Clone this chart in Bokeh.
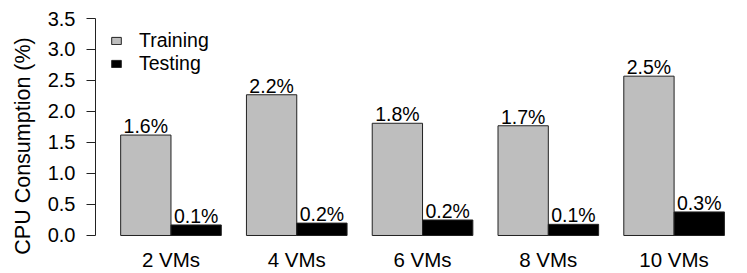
from bokeh.plotting import figure
from bokeh.models import FixedTicker, Legend, LegendItem, ColumnDataSource, NumeralTickFormatter
from bokeh.core.properties import value
from bokeh.embed import file_html
from bokeh.resources import INLINE

categories = ["2 VMs", "4 VMs", "6 VMs", "8 VMs", "10 VMs"]
training = [1.62, 2.27, 1.81, 1.77, 2.57]
testing = [0.17, 0.20, 0.25, 0.18, 0.38]
training_labels = ["1.6%", "2.2%", "1.8%", "1.7%", "2.5%"]
testing_labels = ["0.1%", "0.2%", "0.2%", "0.1%", "0.3%"]
y_ticks = [0.0, 0.5, 1.0, 1.5, 2.0, 2.5, 3.0, 3.5]

FONT = "Liberation Sans"
n = len(categories)
step = 2.5
train_x = [1.0 + step * i for i in range(n)]
test_x = [2.0 + step * i for i in range(n)]
centers = [1.5 + step * i for i in range(n)]

src_train = ColumnDataSource(dict(x=train_x, top=training, lab=training_labels))
src_test = ColumnDataSource(dict(x=test_x, top=testing, lab=testing_labels))
src_cat = ColumnDataSource(dict(x=centers, y=[0.0] * n, lab=categories))

p = figure(width=739, height=273, output_backend="svg", toolbar_location=None,
           x_range=(0, 12.8), y_range=(-0.613, 3.5),
           min_border_left=95, min_border_top=18, min_border_right=0, min_border_bottom=0)
p.outline_line_color = None
p.grid.visible = False
p.background_fill_color = "white"
p.xaxis.visible = False

r_train = p.vbar(x="x", top="top", bottom=0, width=1.0, source=src_train,
                 fill_color="#bebebe", line_color="#222222", line_width=1)
r_test = p.vbar(x="x", top="top", bottom=0, width=1.0, source=src_test,
                fill_color="black", line_color="#222222", line_width=1)

for src in (src_train, src_test):
    p.text(x="x", y="top", text="lab", source=src, text_align="center",
           text_baseline="bottom", y_offset=2,
           text_font=value(FONT), text_font_size="19.5px", text_color="black")

# category labels under the groups
p.text(x="x", y="y", text="lab", source=src_cat, text_align="center",
       text_baseline="top", y_offset=13,
       text_font=value(FONT), text_font_size="20.5px", text_color="black")

# y axis
ya = p.yaxis[0]
ya.ticker = FixedTicker(ticks=y_ticks)
ya.formatter = NumeralTickFormatter(format="0.0")
ya.bounds = (0, 3.5)
ya.axis_line_color = "#222222"
ya.major_tick_line_color = "#222222"
ya.major_tick_in = 0
ya.major_tick_out = 9
ya.minor_tick_line_color = None
ya.major_label_standoff = 11
ya.major_label_text_font = FONT
ya.major_label_text_font_size = "20px"
ya.major_label_text_color = "black"
ya.axis_label = "CPU Consumption (%)"
ya.axis_label_text_font = FONT
ya.axis_label_text_font_size = "21.5px"
ya.axis_label_text_font_style = "normal"
ya.axis_label_text_color = "black"
ya.axis_label_standoff = 10

legend = Legend(items=[LegendItem(label="Training", renderers=[r_train]),
                       LegendItem(label="Testing", renderers=[r_test])],
                location=(15, 198), orientation="vertical")
legend.border_line_color = None
legend.background_fill_alpha = 0
legend.padding = 0
legend.margin = 0
legend.spacing = 0
legend.glyph_width = 12
legend.glyph_height = 9
legend.label_standoff = 17
legend.label_height = 22
legend.label_text_font = FONT
legend.label_text_font_size = "19.5px"
legend.label_text_color = "black"
p.add_layout(legend)

open("out.html", "w").write(file_html(p, INLINE))
